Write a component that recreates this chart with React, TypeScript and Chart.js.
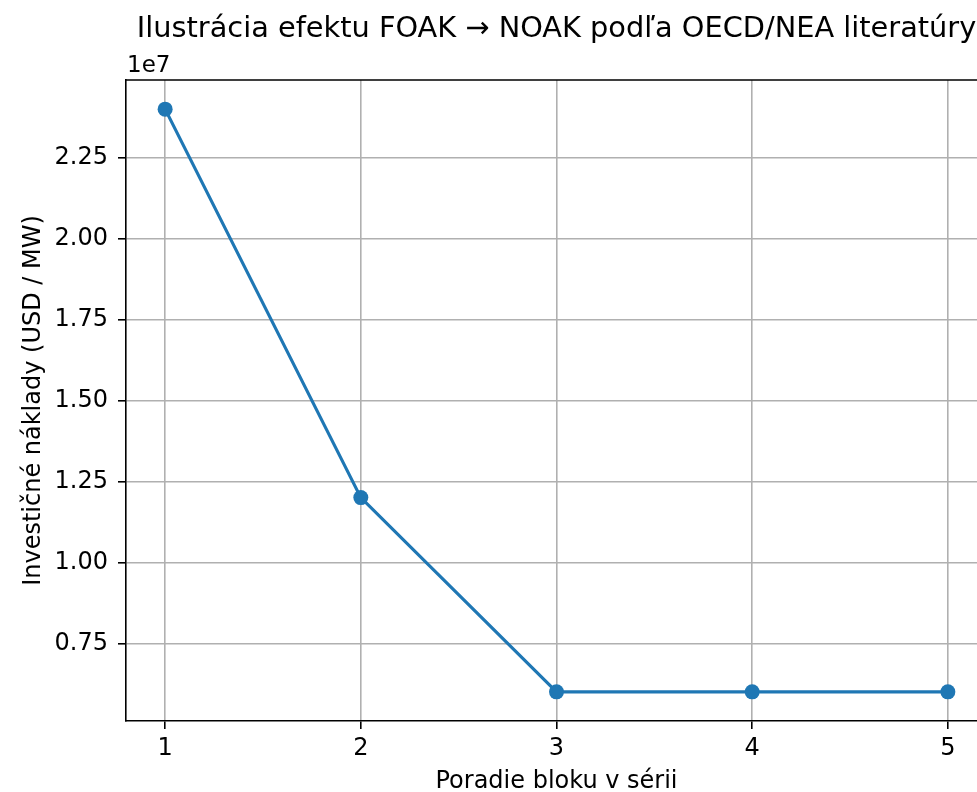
import React, { useEffect, useRef } from "react";
import { Chart, registerables } from "chart.js";

Chart.register(...registerables);

const TITLE = "Ilustrácia efektu FOAK → NOAK podľa OECD/NEA literatúry";
const X_LABEL = "Poradie bloku v sérii";
const Y_LABEL = "Investičné náklady (USD / MW)";
const blockOrder = [1, 2, 3, 4, 5];
const costUsdPerMw = [24000000, 12000000, 6000000, 6000000, 6000000];
const yTickValues = [7500000, 10000000, 12500000, 15000000, 17500000, 20000000, 22500000];
const xTickValues = [1, 2, 3, 4, 5];

const FONT = "'DejaVu Sans', sans-serif";

const textPlugin = {
  id: "mplText",
  afterDraw(chart: any) {
    const { ctx, chartArea } = chart;
    ctx.save();
    // top & right spines
    ctx.strokeStyle = "#000";
    ctx.lineWidth = 1.6;
    ctx.beginPath();
    ctx.moveTo(chartArea.left, chartArea.top);
    ctx.lineTo(chartArea.right, chartArea.top);
    ctx.lineTo(chartArea.right, chartArea.bottom);
    ctx.stroke();

    ctx.fillStyle = "#000";
    // title
    ctx.font = `28.8px ${FONT}`;
    ctx.textAlign = "center";
    ctx.textBaseline = "alphabetic";
    ctx.fillText(TITLE, (chartArea.left + chartArea.right) / 2, 37);
    // offset text
    ctx.font = `23px ${FONT}`;
    ctx.textAlign = "left";
    ctx.fillText("1e7", chartArea.left + 1, 72);
    // x label
    ctx.font = `24px ${FONT}`;
    ctx.textAlign = "center";
    ctx.fillText(X_LABEL, (chartArea.left + chartArea.right) / 2, 788);
    // y label
    ctx.translate(40, (chartArea.top + chartArea.bottom) / 2);
    ctx.rotate(-Math.PI / 2);
    ctx.fillText(Y_LABEL, 0, 0);
    ctx.restore();
  },
};

export default function App() {
  const ref = useRef<HTMLCanvasElement | null>(null);
  useEffect(() => {
    if (!ref.current) return;
    const chart = new Chart(ref.current, {
      type: "line",
      data: {
        datasets: [
          {
            data: blockOrder.map((x, i) => ({ x, y: costUsdPerMw[i] })),
            borderColor: "#1f77b4",
            backgroundColor: "#1f77b4",
            borderWidth: 3.2,
            pointRadius: 7.5,
            pointBorderWidth: 0,
            pointBackgroundColor: "#1f77b4",
            tension: 0,
            clip: false as any,
          },
        ],
      },
      options: {
        animation: false,
        responsive: true,
        maintainAspectRatio: false,
        layout: { padding: { top: 80, right: 13, left: 0, bottom: 0 } },
        plugins: { legend: { display: false }, tooltip: { enabled: false }, title: { display: false } },
        scales: {
          x: {
            type: "linear",
            min: 0.8,
            max: 5.2,
            afterBuildTicks: (s: any) => {
              s.ticks = xTickValues.map((v) => ({ value: v }));
            },
            afterFit: (s: any) => {
              s.height = 71;
            },
            grid: { color: "#b0b0b0", lineWidth: 1.6, tickColor: "#000", tickLength: 8, tickWidth: 1.6 } as any,
            border: { color: "#000", width: 1.6 },
            ticks: {
              color: "#000",
              font: { family: FONT, size: 24 },
              padding: 5,
              maxRotation: 0,
              autoSkip: false,
              callback: (v: any) => String(v),
            },
          },
          y: {
            type: "linear",
            min: 5100000,
            max: 24900000,
            afterBuildTicks: (s: any) => {
              s.ticks = yTickValues.map((v) => ({ value: v }));
            },
            afterFit: (s: any) => {
              s.width = 126;
            },
            grid: { color: "#b0b0b0", lineWidth: 1.6, tickColor: "#000", tickLength: 8, tickWidth: 1.6 } as any,
            border: { color: "#000", width: 1.6 },
            ticks: {
              color: "#000",
              font: { family: FONT, size: 24 },
              padding: 10,
              autoSkip: false,
              callback: (v: any) => (Number(v) / 1e7).toFixed(2),
            },
          },
        },
      },
      plugins: [textPlugin],
    });
    return () => chart.destroy();
  }, []);
  return (
    <div
      style={{
        position: "fixed",
        left: 0,
        top: 0,
        width: 977,
        height: 792,
        overflow: "hidden",
        background: "#fff",
      }}
    >
      <div style={{ position: "relative", width: 1000, height: 792 }}>
        <canvas ref={ref} />
      </div>
    </div>
  );
}
